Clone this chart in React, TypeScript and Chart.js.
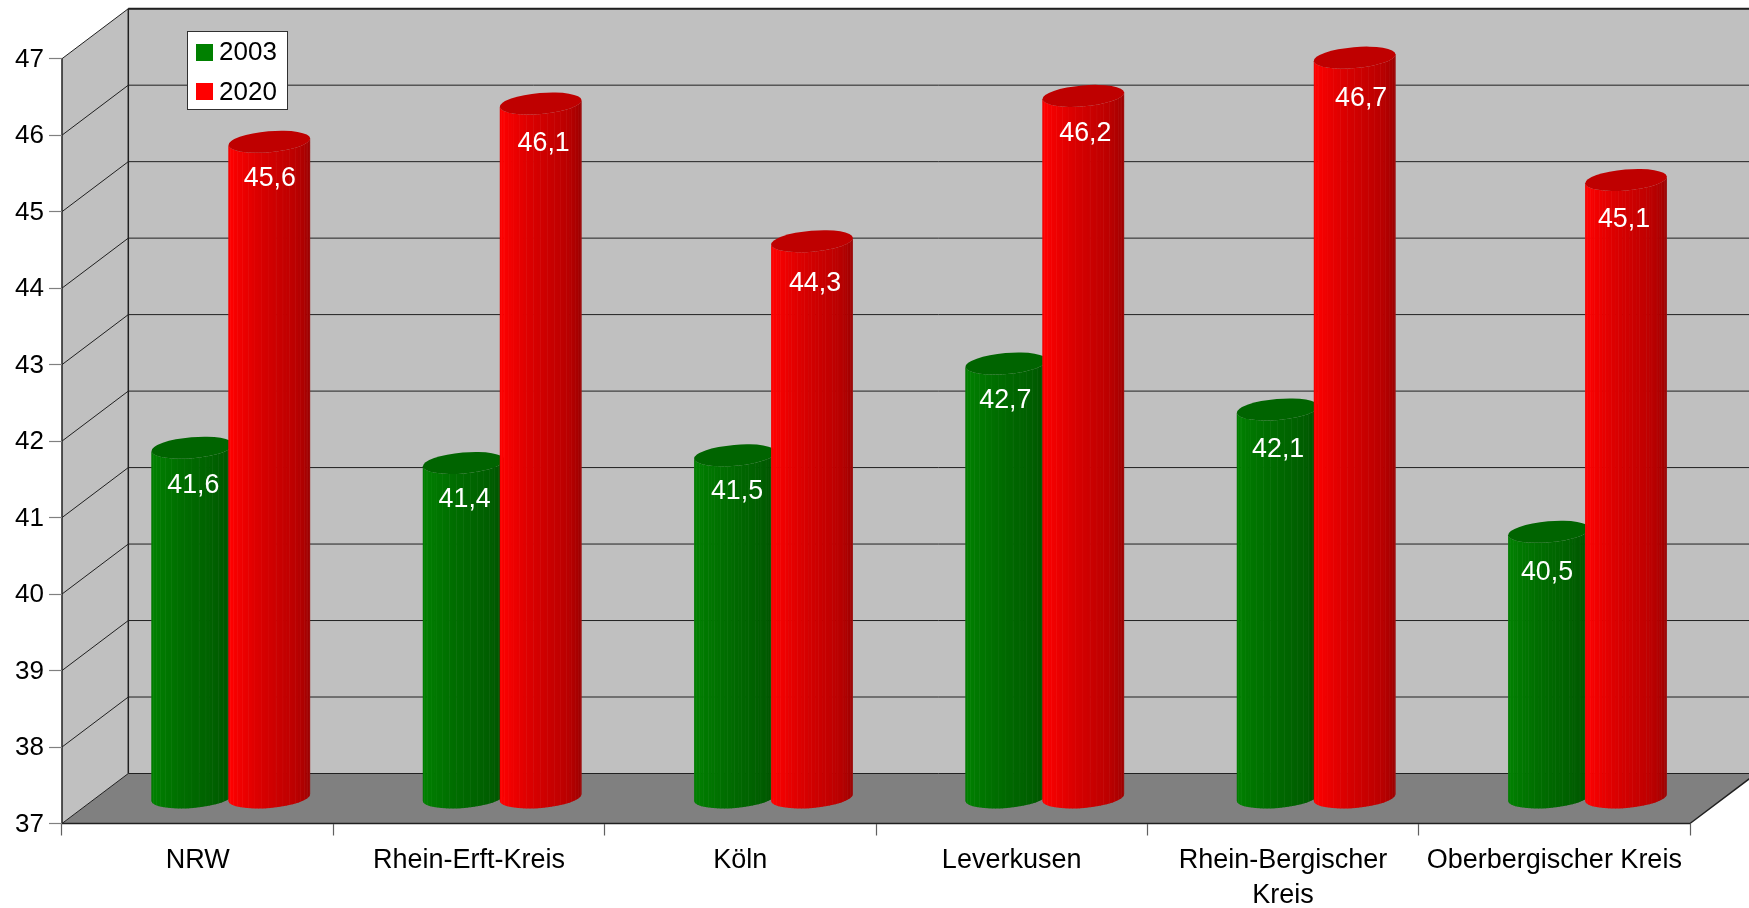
import React, { useEffect, useRef } from "react";
import { Chart, registerables } from "chart.js";

Chart.register(...registerables);

const categories: (string | string[])[] = [
  "NRW",
  "Rhein-Erft-Kreis",
  "Köln",
  "Leverkusen",
  ["Rhein-Bergischer", "Kreis"],
  "Oberbergischer Kreis",
];
const values2003 = [41.6, 41.4, 41.5, 42.7, 42.1, 40.5];
const values2020 = [45.6, 46.1, 44.3, 46.2, 46.7, 45.1];
const seriesNames = ["2003", "2020"];
const seriesColors = ["#008000", "#FF0000"];
const yMin = 37;
const yMax = 47;

const FONT = "'Liberation Sans', Arial, sans-serif";
const DX = 66.3; // depth of the 3D box
const DY = -50;
const SHIFT_X = DX / 2;
const TOP_SHIFT_Y = -24;
const BOTTOM_SHIFT_Y = -26;
const TILT = -0.085;
const RY = 10.5;
const LABEL_DROP = 34.5;
const STRIPS = 36;
// small hand placement of the value labels, as in the source chart
const labelNudgeX = [
  [1, 1, 2, -1, 0.5, -2],
  [0.5, 3, 3, 2, 6.5, -2],
];
const labelNudgeY = [
  [3, 2, 2, 3, 5.5, 6.5],
  [2, 5.5, 8, 3, 6.5, 5.5],
];

function shadeAt(u: number): number {
  const stops: [number, number][] = [
    [0, 0.8],
    [0.05, 0.95],
    [0.12, 1],
    [0.3, 0.92],
    [0.5, 0.82],
    [0.75, 0.72],
    [1, 0.57],
  ];
  for (let i = 1; i < stops.length; i++) {
    if (u <= stops[i][0]) {
      const [a, sa] = stops[i - 1];
      const [b, sb] = stops[i];
      return sa + ((sb - sa) * (u - a)) / (b - a);
    }
  }
  return 0.57;
}

function rgb(hex: string): [number, number, number] {
  return [
    parseInt(hex.slice(1, 3), 16),
    parseInt(hex.slice(3, 5), 16),
    parseInt(hex.slice(5, 7), 16),
  ];
}

function drawCylinder(
  ctx: CanvasRenderingContext2D,
  cx: number,
  top: number,
  bottom: number,
  rx: number,
  color: string
) {
  const [r, g, b] = rgb(color);
  ctx.save();
  ctx.beginPath();
  ctx.ellipse(cx, bottom, rx, RY, TILT, 0, Math.PI);
  ctx.ellipse(cx, top, rx, RY, TILT, Math.PI, 0, true);
  ctx.closePath();
  ctx.clip();
  for (let i = 0; i < STRIPS; i++) {
    const a0 = Math.PI - (Math.PI * i) / STRIPS;
    const a1 = Math.PI - (Math.PI * (i + 1)) / STRIPS;
    const x0 = cx + rx * Math.cos(a0);
    const x1 = cx + rx * Math.cos(a1);
    const k = shadeAt((i + 0.5) / STRIPS);
    ctx.fillStyle = `rgb(${r * k},${g * k},${b * k})`;
    ctx.fillRect(x0 - 0.3, top - 20, x1 - x0 + 0.6, bottom - top + 40);
    if (i % 2 === 1) {
      ctx.fillStyle = "rgba(255,255,255,0.13)";
      ctx.fillRect(x1 - 0.5, top - 20, 1, bottom - top + 40);
    }
  }
  ctx.restore();
  ctx.beginPath();
  ctx.ellipse(cx, top, rx, RY, TILT, 0, Math.PI * 2);
  ctx.fillStyle = `rgb(${r * 0.75},${g * 0.78},${b * 0.75})`;
  ctx.fill();
}

const boxPlugin = {
  id: "box3d",
  beforeDraw(chart: any) {
    const { ctx, chartArea: a, scales, width } = chart;
    const y = scales.y;
    const l = a.left;
    const r = a.right;
    const t = a.top;
    const b = a.bottom;
    ctx.save();
    ctx.fillStyle = "#FFFFFF";
    ctx.fillRect(0, 0, chart.width, chart.height);
    // back wall
    ctx.fillStyle = "#C0C0C0";
    ctx.fillRect(l + DX, t + DY, r - l, b - t);
    // side wall
    ctx.beginPath();
    ctx.moveTo(l, t);
    ctx.lineTo(l + DX, t + DY);
    ctx.lineTo(l + DX, b + DY);
    ctx.lineTo(l, b);
    ctx.closePath();
    ctx.fill();
    // floor
    ctx.fillStyle = "#808080";
    ctx.beginPath();
    ctx.moveTo(l, b);
    ctx.lineTo(l + DX, b + DY);
    ctx.lineTo(r + DX, b + DY);
    ctx.lineTo(r, b);
    ctx.closePath();
    ctx.fill();
    // grid lines on both walls
    ctx.strokeStyle = "#202020";
    ctx.lineWidth = 1;
    for (let v = yMin; v <= yMax; v++) {
      const p = y.getPixelForValue(v);
      ctx.beginPath();
      ctx.moveTo(l, p);
      ctx.lineTo(l + DX, p + DY);
      ctx.lineTo(Math.min(r + DX, width), p + DY);
      ctx.stroke();
    }
    // frame
    ctx.strokeStyle = "#202020";
    ctx.lineWidth = 1.5;
    ctx.beginPath();
    ctx.moveTo(l + DX, t + DY);
    ctx.lineTo(l + DX, b + DY);
    ctx.moveTo(l, t);
    ctx.lineTo(l, b);
    ctx.moveTo(l, b);
    ctx.lineTo(r, b);
    ctx.moveTo(r, b);
    ctx.lineTo(r + DX, b + DY);
    ctx.stroke();
    ctx.lineWidth = 2;
    ctx.beginPath();
    ctx.moveTo(l + DX, t + DY);
    ctx.lineTo(r + DX, t + DY);
    ctx.stroke();
    ctx.restore();
  },
  beforeDatasetsDraw(chart: any) {
    const { ctx, data, scales } = chart;
    const floor = scales.y.getPixelForValue(yMin);
    ctx.save();
    data.datasets.forEach((ds: any, di: number) => {
      chart.getDatasetMeta(di).data.forEach((bar: any) => {
        const cx = bar.x + SHIFT_X;
        const top = bar.y + TOP_SHIFT_Y;
        const bottom = floor + BOTTOM_SHIFT_Y;
        drawCylinder(ctx, cx, top, bottom, bar.width / 2, ds.backgroundColor);
      });
    });
    // value labels
    ctx.fillStyle = "#FFFFFF";
    ctx.font = `26.8px ${FONT}`;
    ctx.textAlign = "center";
    ctx.textBaseline = "middle";
    data.datasets.forEach((ds: any, di: number) => {
      chart.getDatasetMeta(di).data.forEach((bar: any, i: number) => {
        const text = ds.data[i].toFixed(1).replace(".", ",");
        ctx.fillText(
          text,
          bar.x + SHIFT_X + labelNudgeX[di][i],
          bar.y + TOP_SHIFT_Y + LABEL_DROP + labelNudgeY[di][i]
        );
      });
    });
    // legend
    const lx = 187.5;
    const ly = 31.5;
    ctx.fillStyle = "#FFFFFF";
    ctx.fillRect(lx, ly, 100, 78);
    ctx.strokeStyle = "#303030";
    ctx.lineWidth = 1;
    ctx.strokeRect(lx, ly, 100, 78);
    ctx.font = `26px ${FONT}`;
    ctx.textAlign = "left";
    data.datasets.forEach((ds: any, di: number) => {
      const rowY = ly + 21 + di * 39;
      ctx.fillStyle = ds.backgroundColor;
      ctx.fillRect(lx + 8.5, rowY - 8.5, 17, 17);
      ctx.fillStyle = "#000000";
      ctx.fillText(ds.label, lx + 31.5, rowY + (di === 0 ? 0 : 1));
    });
    ctx.restore();
    return false;
  },
};

export default function App() {
  const ref = useRef<HTMLCanvasElement>(null);
  useEffect(() => {
    document.body.style.margin = "0";
    document.body.style.background = "#FFFFFF";
    const chart = new Chart(ref.current!, {
      type: "bar",
      data: {
        labels: categories as any,
        datasets: [
          { label: seriesNames[0], data: values2003, backgroundColor: seriesColors[0], base: yMin },
          { label: seriesNames[1], data: values2020, backgroundColor: seriesColors[1], base: yMin },
        ],
      },
      options: {
        animation: false,
        responsive: false,
        devicePixelRatio: 1,
        layout: { padding: { top: 58.7, right: 59, left: 0, bottom: 0 } },
        datasets: { bar: { categoryPercentage: 0.5676, barPercentage: 1.065 } },
        plugins: { legend: { display: false }, tooltip: { enabled: false } },
        font: { family: FONT },
        scales: {
          x: {
            border: { display: false },
            grid: {
              drawOnChartArea: false,
              drawTicks: true,
              tickLength: 12,
              tickColor: "#606060",
              tickWidth: 1.2,
            },
            ticks: {
              color: "#000000",
              font: { family: FONT, size: 27, lineHeight: 1.3 },
              padding: 7,
              maxRotation: 0,
              minRotation: 0,
              autoSkip: false,
            },
            afterFit(s: any) {
              s.height = 84.5;
              s.paddingLeft = 0;
              s.paddingRight = 0;
            },
          },
          y: {
            min: yMin,
            max: yMax,
            border: { display: false },
            grid: {
              drawOnChartArea: false,
              drawTicks: true,
              tickLength: 13,
              tickColor: "#808080",
              tickWidth: 1.2,
            },
            ticks: {
              stepSize: 1,
              color: "#000000",
              font: { family: FONT, size: 26 },
              padding: 5,
              labelOffset: 1,
              callback: (v: any) => String(v),
            },
            afterFit(s: any) {
              s.width = 62;
              s.paddingTop = 0;
              s.paddingBottom = 0;
            },
          },
        },
      },
      plugins: [boxPlugin],
    } as any);
    return () => chart.destroy();
  }, []);
  return (
    <div style={{ position: "fixed", left: 0, top: 0, width: 1749, height: 908 }}>
      <canvas ref={ref} width={1749} height={908} style={{ display: "block" }} />
    </div>
  );
}
